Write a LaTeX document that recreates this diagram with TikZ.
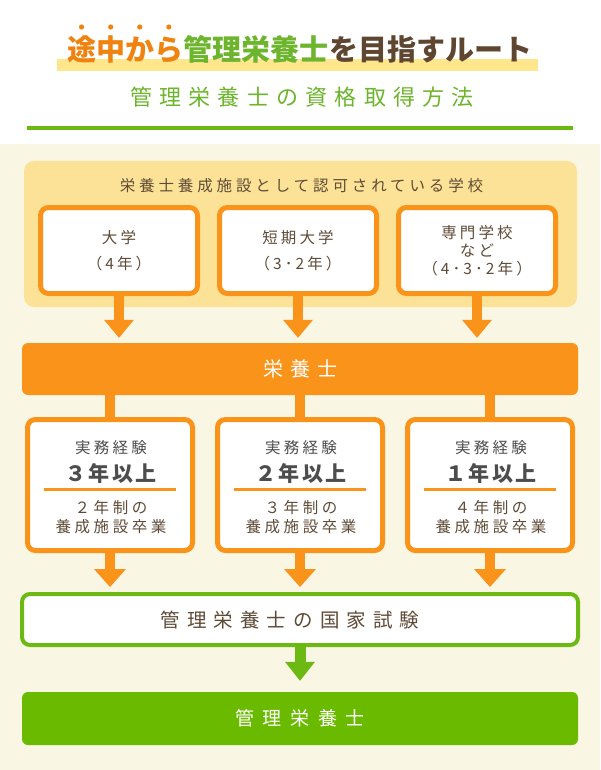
\documentclass[tikz,border=0pt]{standalone}
\usepackage{fontspec}
\setmainfont{Noto Sans CJK JP}
\usetikzlibrary{arrows.meta,calc}
\definecolor{org}{HTML}{F9931A}
\definecolor{torg}{HTML}{F0830F}
\definecolor{grn}{HTML}{6CB914}
\definecolor{dgrn}{HTML}{6ABB00}
\definecolor{tgrn}{HTML}{6DB52C}
\definecolor{ylw}{HTML}{FCE296}
\definecolor{hl}{HTML}{FDE68C}
\definecolor{cream}{HTML}{FAF6E4}
\definecolor{brn}{HTML}{5F4B37}
\definecolor{tbrn}{HTML}{5E4630}
\definecolor{dgray}{HTML}{4D4D4D}
\newcommand\fsz[3]{\fontsize{#2pt}{#3pt}\selectfont\addfontfeatures{LetterSpace=#1}}
\begin{document}
\begin{tikzpicture}[x=1pt,y=-1pt,
  rbox/.style={draw=org, line width=5pt, fill=white, rounded corners=8pt, align=center, text=brn, inner sep=0pt},
  txt/.style={inner sep=0pt, align=center},
  oarrow/.style={draw=org, line width=10pt, -{Triangle[length=18pt,width=30pt,line width=0pt]}},
  oarrowb/.style={draw=org, line width=10pt, -{Triangle[length=18pt,width=32pt,line width=0pt]}},
  garrow/.style={draw=grn, line width=11pt, -{Triangle[length=19pt,width=30pt,line width=0pt]}},
  oconn/.style={draw=org, line width=10pt}]
\useasboundingbox (0,0) rectangle (600,770);
\fill[white] (0,0) rectangle (600,144);
\fill[cream] (0,144) rectangle (600,770);
% title
\fill[hl] (57,59) rectangle (538,71);
\node[txt, anchor=west, text=torg, font={\bfseries\fsz{0}{29}{29}}] (t1) at (67,50) {途中から};
\node[txt, anchor=base west, text=tgrn, font={\bfseries\fsz{0}{29}{29}}] (t2) at (t1.base east) {管理栄養士};
\node[txt, anchor=base west, text=tbrn, font={\bfseries\fsz{0}{29}{29}}] (t3) at (t2.base east) {を目指すルート};
\foreach \i in {0,1,2,3}
  \fill[torg] ($(t1.west)!{(\i+0.5)/4}!(t1.east)+(0,-23)$) circle (2.6pt);
\node[txt, text=tgrn, font={\fsz{33}{22}{22}}] (sub) at (302,97) {管理栄養士の資格取得方法};
\draw[grn, line width=4pt] (27,128) -- (573,128);
% school group
\node[fill=ylw, rounded corners=10pt, minimum width=553pt, minimum height=146pt, inner sep=0pt] (grp) at (300.5,234) {};
\node[txt, text=brn, font={\fsz{25}{15.5}{19}}] (grpt) at (301.5,186) {栄養士養成施設として認可されている学校};
\node[rbox, minimum width=157pt, minimum height=86pt, font={\fsz{20}{15.5}{26}}] (b1) at (119,250.5) {大学\\（4年）};
\node[rbox, minimum width=157pt, minimum height=86pt, font={\fsz{20}{15.5}{26}}] (b2) at (298,250.5) {短期大学\\（3･2年）};
\node[rbox, minimum width=157pt, minimum height=86pt, font={\fsz{20}{15.5}{18}}] (b3) at (477,250.5) {専門学校\\など\\（4･3･2年）};
% dietitian bar
\node[fill=org, rounded corners=6pt, minimum width=556pt, minimum height=52pt, inner sep=0pt, text=white, font={\fsz{35}{20}{20}}] (bar) at (300,369) {栄養士};
\draw[oarrow] (b1.south) -- ($(b1.south |- bar.north)+(0,-5)$);
\draw[oarrow] (b2.south) -- ($(b2.south |- bar.north)+(0,-5)$);
\draw[oarrow] (b3.south) -- ($(b3.south |- bar.north)+(0,-5)$);
% experience boxes
\foreach \nm/\x/\yrs/\sch in {e1/110/３/２, e2/300/２/３, e3/490/１/４}{
  \node[rbox, minimum width=165pt, minimum height=131pt] (\nm) at (\x,485) {};
  \draw[oconn] (\nm.north |- bar.south) -- (\nm.north);
  \node[txt, text=dgray, font={\fsz{21}{15.5}{19}}] (\nm a) at ($(\nm.center)+(1,-37)$) {実務経験};
  \node[txt, text=dgray, font={\bfseries\fsz{10}{21}{21}}] (\nm b) at ($(\nm.center)+(1,-12)$) {\yrs 年以上};
  \draw[org, line width=3pt] ($(\nm.center)+(-66,4)$) -- ($(\nm.center)+(66,4)$);
  \node[txt, text=brn, font={\fsz{23}{15.5}{19}}] (\nm c) at ($(\nm.center)+(1,32.5)$) {\sch 年制の\\養成施設卒業};
}
% exam
\node[draw=grn, line width=4pt, fill=white, rounded corners=8pt, minimum width=556pt, minimum height=51pt, inner sep=0pt] (exam) at (300,619.5) {};
\node[txt, text=brn, font={\fsz{36}{19.5}{19.5}}] (examt) at ($(exam.center)+(-10,0.5)$) {管理栄養士の国家試験};
\draw[oarrowb] (e1.south) -- ($(e1.south |- exam.north)+(0,-5)$);
\draw[oarrowb] (e2.south) -- ($(e2.south |- exam.north)+(0,-5)$);
\draw[oarrowb] (e3.south) -- ($(e3.south |- exam.north)+(0,-5)$);
% final
\node[fill=dgrn, rounded corners=6pt, minimum width=556pt, minimum height=53pt, inner sep=0pt, text=white, font={\fsz{45}{19}{19}}] (fin) at (300,718.5) {管理栄養士};
\draw[garrow] (exam.south) -- ($(exam.south |- fin.north)+(0,-11)$);
\end{tikzpicture}
\end{document}
